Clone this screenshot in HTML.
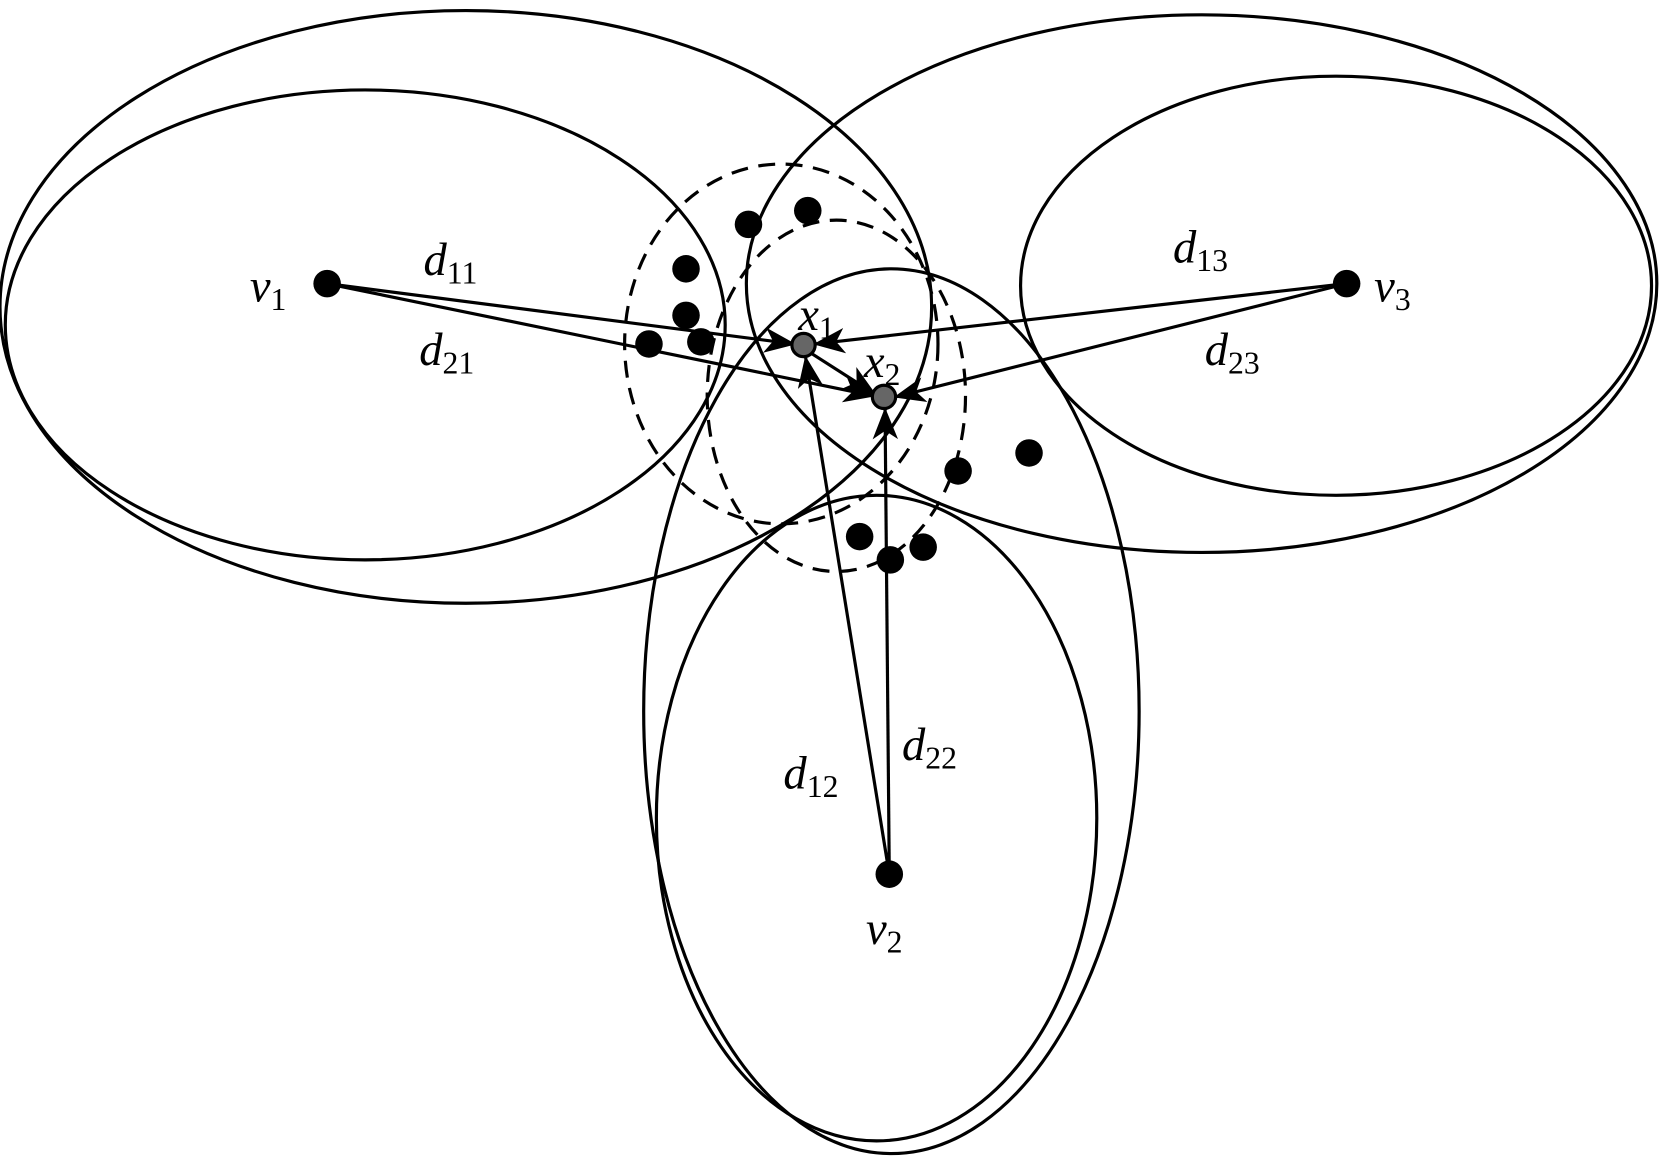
<!DOCTYPE html>
<html><head><meta charset="utf-8"><style>html,body{margin:0;padding:0;background:#fff}svg{display:block}text{font-family:"Liberation Serif",serif;font-style:italic;fill:#000}</style></head><body>
<svg width="1660" height="1161" viewBox="0 0 1568 1097" preserveAspectRatio="none" xmlns="http://www.w3.org/2000/svg">
<defs><marker id="a" markerWidth="10" markerHeight="10" refX="9" refY="5" orient="auto" markerUnits="userSpaceOnUse" viewBox="0 0 10 10"><path d="M0,0 L10,5 L0,10 L3,5 z" fill="#000" transform="scale(1)"/></marker>
<marker id="b" markerWidth="30" markerHeight="24" refX="28" refY="12" orient="auto" markerUnits="userSpaceOnUse"><path d="M0,0 L30,12 L0,24 L8,12 z" fill="#000"/></marker></defs>
<g fill="none" stroke="#000" stroke-width="3">
<ellipse cx="440" cy="290" rx="440" ry="280"/>
<ellipse cx="345" cy="307" rx="340" ry="222"/>
<ellipse cx="1135" cy="268" rx="430" ry="254"/>
<ellipse cx="1262" cy="270" rx="298" ry="198"/>
<ellipse cx="842" cy="672" rx="234" ry="418"/>
<ellipse cx="828" cy="773" rx="208" ry="305"/>
<ellipse cx="738" cy="325" rx="148" ry="170" stroke-dasharray="16,10"/>
<ellipse cx="790" cy="374" rx="122" ry="166" stroke-dasharray="16,10"/>
<line x1="309" y1="268" x2="750" y2="325" marker-end="url(#b)"/>
<line x1="309" y1="268" x2="825" y2="374" marker-end="url(#b)"/>
<line x1="1272" y1="268" x2="770" y2="325" marker-end="url(#b)"/>
<line x1="1272" y1="268" x2="846" y2="375" marker-end="url(#b)"/>
<line x1="840" y1="826" x2="761" y2="338" marker-end="url(#b)"/>
<line x1="840" y1="826" x2="836" y2="387" marker-end="url(#b)"/>
<line x1="765" y1="333" x2="826" y2="372" marker-end="url(#b)"/>
</g>
<g fill="#000">
<circle cx="309" cy="268" r="13"/><circle cx="1272" cy="268" r="13"/><circle cx="840" cy="826" r="13"/>
<circle cx="707" cy="212" r="13"/><circle cx="763" cy="199" r="13"/><circle cx="648" cy="254" r="13"/><circle cx="648" cy="298" r="13"/><circle cx="613" cy="325" r="13"/><circle cx="662" cy="323" r="13"/><circle cx="905" cy="445" r="13"/><circle cx="972" cy="428" r="13"/><circle cx="812" cy="507" r="13"/><circle cx="841" cy="529" r="13"/><circle cx="872" cy="517" r="13"/>
</g>
<circle cx="759" cy="326" r="11" fill="#666" stroke="#000" stroke-width="3"/>
<circle cx="835" cy="375" r="11" fill="#666" stroke="#000" stroke-width="3"/>
<g font-size="44">
<text x="236" y="285">v<tspan font-size="30" font-style="normal" dy="8">1</tspan></text>
<text x="1298" y="285">v<tspan font-size="30" font-style="normal" dy="8">3</tspan></text>
<text x="818" y="892">v<tspan font-size="30" font-style="normal" dy="8">2</tspan></text>
<text x="400" y="260">d<tspan font-size="30" font-style="normal" dy="8">11</tspan></text>
<text x="396" y="345">d<tspan font-size="30" font-style="normal" dy="8">21</tspan></text>
<text x="1108" y="248">d<tspan font-size="30" font-style="normal" dy="8">13</tspan></text>
<text x="1138" y="345">d<tspan font-size="30" font-style="normal" dy="8">23</tspan></text>
<text x="740" y="745">d<tspan font-size="30" font-style="normal" dy="8">12</tspan></text>
<text x="852" y="718">d<tspan font-size="30" font-style="normal" dy="8">22</tspan></text>
<text x="754" y="312">x<tspan font-size="30" font-style="normal" dy="8">1</tspan></text>
<text x="816" y="356">x<tspan font-size="30" font-style="normal" dy="8">2</tspan></text>
</g>
</svg>
</body></html>
